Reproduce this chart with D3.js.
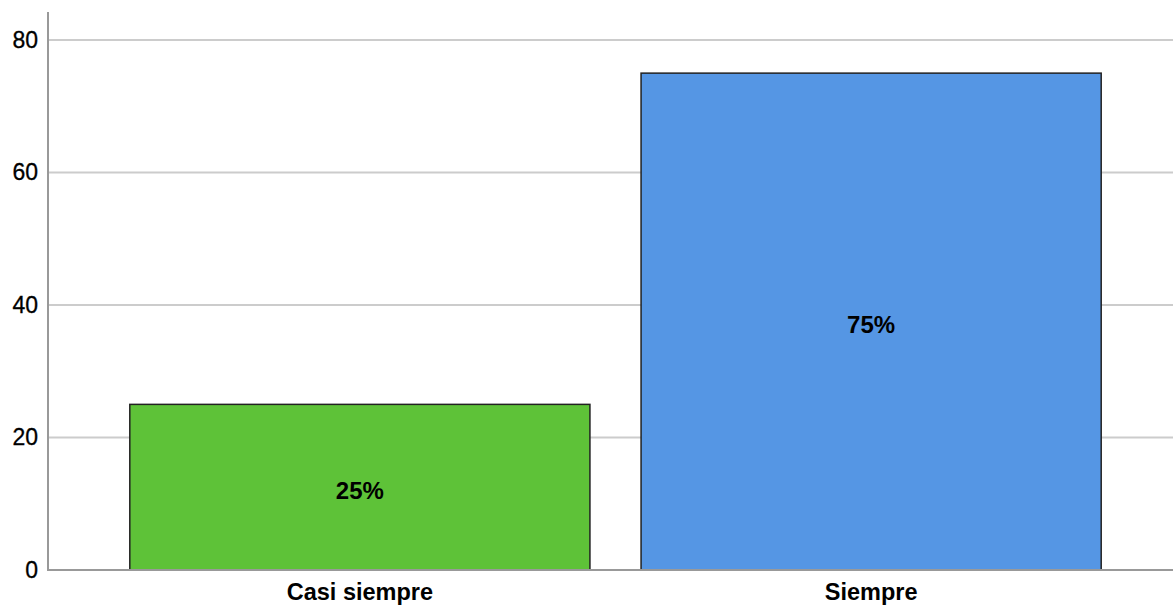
<!DOCTYPE html>
<html>
<head>
<meta charset="utf-8">
<script src="https://cdn.jsdelivr.net/npm/d3@7"></script>
<style>
  body { margin: 0; padding: 0; background: #fff; }
  svg { display: block; font-family: "Liberation Sans", Arial, sans-serif; }
</style>
</head>
<body>
<script>
// values
const categories = ["Casi siempre", "Siempre"]
const percents = [25, 75]
const barColors = ["#5ec238", "#5596e4"]
const yTicks = [0, 20, 40, 60, 80]

const width = 1173
const height = 606

const svg = d3.select("body").append("svg")
  .attr("width", width)
  .attr("height", height)

const x = d3.scaleBand()
  .domain(categories)
  .range([48, 1183])
  .paddingInner(0.1)
  .paddingOuter(0.16)

const y = d3.scaleLinear()
  .domain([0, 80])
  .range([570, 40])

// gridlines
svg.append("g")
  .selectAll("line")
  .data(yTicks.filter(d => d > 0))
  .join("line")
  .attr("x1", 48)
  .attr("x2", width)
  .attr("y1", d => y(d))
  .attr("y2", d => y(d))
  .attr("stroke", "#cccccc")
  .attr("stroke-width", 2)

// bars
svg.append("g")
  .selectAll("rect")
  .data(categories)
  .join("rect")
  .attr("x", d => x(d))
  .attr("y", (d, i) => y(percents[i]))
  .attr("width", x.bandwidth())
  .attr("height", (d, i) => y(0) - y(percents[i]))
  .attr("fill", (d, i) => barColors[i])
  .attr("stroke", "#222")
  .attr("stroke-width", 1.5)

// bar labels
svg.append("g")
  .selectAll("text")
  .data(categories)
  .join("text")
  .attr("x", d => x(d) + x.bandwidth() / 2)
  .attr("y", (d, i) => (y(percents[i]) + y(0)) / 2)
  .attr("dy", "0.48em")
  .attr("text-anchor", "middle")
  .attr("font-size", "24px")
  .attr("font-weight", "bold")
  .attr("fill", "#000")
  .text((d, i) => percents[i] + "%")

// y axis
const yAxis = svg.append("g")
  .attr("transform", "translate(48,0)")
  .call(d3.axisLeft(y).tickValues(yTicks).tickSize(0).tickPadding(10))
yAxis.select(".domain").remove()
yAxis.selectAll("text")
  .attr("font-size", "23px")
  .attr("font-family", "Liberation Sans, Arial, sans-serif")
  .attr("fill", "#000")
  .attr("stroke", "#000")
  .attr("stroke-width", 0.3)

svg.append("line")
  .attr("x1", 48).attr("x2", 48)
  .attr("y1", 12).attr("y2", y(0))
  .attr("stroke", "#999")
  .attr("stroke-width", 2)

// x axis
const xAxis = svg.append("g")
  .attr("transform", `translate(0,${y(0)})`)
  .call(d3.axisBottom(x).tickSize(0).tickPadding(13))
xAxis.select(".domain").remove()
xAxis.selectAll("text")
  .attr("font-size", "23.5px")
  .attr("font-weight", "bold")
  .attr("font-family", "Liberation Sans, Arial, sans-serif")
  .attr("fill", "#000")

svg.append("line")
  .attr("x1", 47).attr("x2", width)
  .attr("y1", y(0)).attr("y2", y(0))
  .attr("stroke", "#999")
  .attr("stroke-width", 2)
</script>
</body>
</html>
